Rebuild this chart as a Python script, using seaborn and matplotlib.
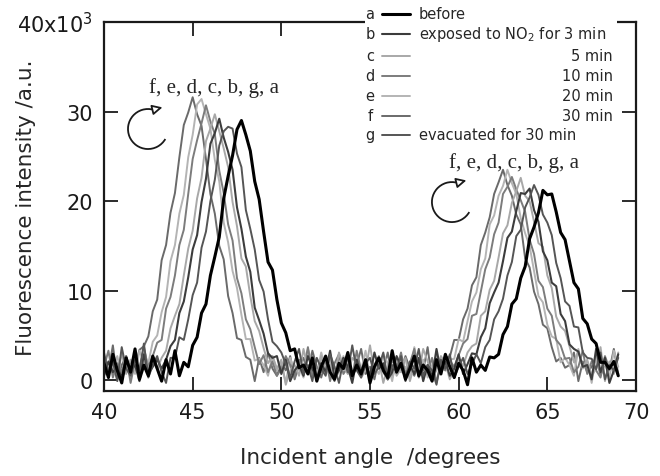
import matplotlib
matplotlib.use("Agg")
import matplotlib.pyplot as plt
import matplotlib.patches as mpatches
import matplotlib.transforms as mtransforms
import numpy as np
import pandas as pd
import seaborn as sns

# scan grid of the incident angle (degrees), 0.25 deg steps from 40 to 69
angles = np.arange(40.0, 69.01, 0.25)

# fluorescence intensity (x10^3 a.u.)
a = [1.9, 0.3, 2.9, 1.1, -0.3, 2.5, 0.9, 3.5, 0.1, 1.7,
     0.5, 2.7, 1.3, -0.1, 2.3, 0.7, 3.3, 0.5,
     2.0, 1.5, 3.9, 4.8, 7.5, 8.5, 11.7, 13.8, 16.0, 20.3, 22.8, 25.1,
     28.0, 29.0, 27.4, 25.6, 22.2, 20.2, 16.6, 13.2, 12.3, 9.0,
     6.4, 5.3, 3.3, 3.5, 1.4,
     1.7, 0.7, 2.5, -0.1, 1.5, 2.7, 0.9, 0.1, 1.9, 1.3,
     3.1, 0.5, 1.7, 0.7, 2.3, -0.3, 1.5, 2.5, 1.1, 0.3,
     3.3, 0.9, 1.9, 0.1, 1.3, 2.7, 0.5, 1.7, 1.1, -0.1,
     2.3, 0.7, 2.9, 1.5, 0.3, 1.9, 1.1, -0.5, 2.5, 0.9, 1.7,
     1.1, 2.6, 2.5, 2.9, 5.1, 6.0, 8.5, 9.1, 11.4, 12.7,
     15.8, 17.1, 18.7, 21.2, 20.7, 20.8, 18.8, 16.5, 15.7, 13.3,
     10.9, 10.2, 6.9, 6.3, 4.6, 4.1, 2.0, 2.0, 1.3,
     2.1, 0.5]
b = [0.5, 2.1, 0.9, 1.5, 0.3, 2.5, 1.1, 1.7, -0.1, 2.9, 0.7, 1.5, 2.3,
     1.3, 2.3, 3.8, 4.5, 7.5, 8.8, 11.5, 14.6, 16.2, 19.9, 22.5, 26.4,
     27.6, 29.2, 27.1, 25.5, 23.5, 19.3, 16.9, 13.8, 12.1, 8.1, 6.7,
     5.2, 3.0, 2.5, 2.7,
     0.7, 2.3, -0.1, 1.1, 1.7, 0.5, 2.7, 1.3, 0.1, 1.9,
     0.9, 3.3, 0.3, 1.1, 2.5, 1.5, -0.3, 2.3, 0.7, 1.7,
     0.5, 3.1, 1.3, 1.9, 0.1, 0.9, 2.7, 1.5, 0.3, 1.7,
     0.7, 2.5, -0.1, 1.7, 0.3, 3.5, 0.9, 2.1, 0.5, 1.3, 2.9,
     0.7, 1.8, 3.0, 2.9, 4.8, 5.8, 8.6, 9.8, 10.9, 13.3,
     15.9, 16.6, 18.9, 20.9, 20.8, 21.4, 19.0, 17.7, 14.4, 13.4,
     10.9, 10.5, 7.4, 6.6, 4.0, 3.5, 3.2, 1.5, 1.7,
     0.1, 3.5, 0.9, 2.5, -0.3, 1.1, 2.9]
c = [2.5, 1.1, 1.7, 0.1, 3.1, 0.7, 2.3, 1.3, 0.5, 3.7, 1.1, 2.5,
     1.2, 2.5, 3.3, 5.8, 7.2, 8.5, 11.7, 14.7, 16.7, 20.3, 22.6, 26.7,
     28.1, 29.7, 27.8, 25.9, 23.8, 19.9, 17.2, 13.6, 12.7, 9.4, 6.6,
     5.5, 3.6, 1.9, 2.7,
     1.3, 2.3, -0.5, 1.1, 1.7, 0.5, 3.5, 1.3, 2.1, -0.1, 2.7,
     0.9, 1.7, 0.1, 3.1, 1.5, 0.7, 2.5, 1.9, 0.3, 1.1,
     3.9, 0.9, 2.3, -0.3, 1.5, 2.9, 0.5, 1.3, 2.5, -0.1,
     1.7, 0.7, 3.5, 2.1, 0.3, 1.1, 2.7, 1.9, 0.1, 1.3,
     2.4, 1.6, 3.1, 3.8, 4.1, 7.2, 7.7, 10.1, 11.1, 13.7,
     16.4, 17.3, 19.8, 21.1, 22.6, 20.6, 20.0, 17.7, 15.3, 14.9,
     11.7, 10.3, 7.1, 6.0, 5.5, 3.8, 2.0, 3.3, 1.4,
     2.3, 0.5, 1.3, 3.7, -0.1, 2.1, 0.7, 3.1]
d = [1.5, 3.3, 0.3, 1.9, 0.9, 2.7, -0.3, 2.1, 1.3, 3.5,
     1.5, 2.7, 4.2, 4.5, 8.0, 9.3, 11.7, 15.1, 16.8, 20.8,
     24.7, 26.8, 28.7, 30.7, 28.9, 27.5, 23.4, 20.9, 17.4, 15.6,
     11.4, 9.7, 6.8, 5.7, 3.7, 1.8, 2.8,
     0.9, 2.1, 0.5, 1.3, 2.7, 1.7, 0.3, 2.3, 1.1, 3.7, 0.5, 1.5, 0.9,
     2.5, -0.1, 1.9, 2.9, 0.7, 1.5, 0.3, 3.3, 1.1, 2.1,
     0.5, 1.7, 2.7, 0.9, 0.1, 2.3, 1.3, 3.1, 0.7, 1.9,
     3.5, 0.3, 1.5, 0.9, 2.5, -0.3, 1.9, 1.1,
     2.2, 1.5, 2.8, 4.1, 4.6, 7.2, 7.4, 9.9, 12.4, 13.7,
     16.3, 17.6, 20.8, 21.6, 22.7, 21.3, 20.1, 18.8, 15.7, 14.1,
     11.1, 10.4, 8.0, 7.2, 4.5, 3.9, 2.4, 2.5, 0.9,
     1.5, 3.3, 0.7, 2.1, 1.1, 0.3, 2.7, 1.3, 1.9, 0.5]
e = [0.5, 1.9, 1.3, 2.7, 0.3, 1.1, 2.1, 0.7, 3.3,
     2.0, 1.9, 4.3, 5.0, 7.6, 9.3, 13.3, 15.1, 18.6, 20.7, 24.9,
     27.4, 30.8, 31.4, 29.7, 28.1, 24.6, 22.2, 17.6, 15.4, 12.2,
     10.3, 7.3, 4.6, 4.6, 2.2, 2.4,
     1.7, 0.5, 2.7, 1.1, 1.9, -0.3, 2.5, 0.9, 1.5, 0.3, 3.5, 1.9, 0.7, 3.1,
     1.3, 2.3, 0.1, 0.9, 2.7, 1.7, 0.5, 2.1, 1.1, 3.3,
     0.3, 1.5, 0.7, 2.9, 1.9, -0.1, 2.5, 0.9, 1.5, 0.5,
     3.7, 1.1, 2.3, 0.3, 1.7, 2.7, 1.3,
     1.1, 2.3, 2.4, 4.6, 4.3, 6.6, 8.8, 9.8, 12.4, 13.6,
     17.4, 18.4, 20.6, 21.7, 23.5, 22.0, 20.8, 18.1, 16.4, 15.0,
     12.2, 9.4, 8.7, 6.2, 4.9, 4.6, 2.0, 2.5, 1.7,
     0.5, 3.5, 1.3, 2.1, -0.3, 2.7, 0.9, 1.9, 0.3, 3.3, 1.5]
f = [2.3, 0.9, 3.9, 0.1, 1.7, 2.7, 1.1,
     1.5, 3.4, 3.8, 4.9, 7.7, 9.0, 13.4, 15.1, 18.7, 20.9, 24.9, 28.5,
     29.9, 31.6, 29.7, 28.4, 24.7, 20.8, 18.6, 15.0, 13.5, 9.4, 7.5,
     4.7, 4.5, 2.6, 2.3,
     -0.1, 2.5, 0.9, 3.1, 1.3, 0.5,
     1.9, 1.1, 2.7, 0.1, 1.7, 2.5, 0.7, 3.3, 1.5, 0.3,
     2.1, 0.9, -0.1, 2.9, 1.3, 2.3, 0.5, 1.7, 3.5, 0.7,
     1.5, 0.1, 2.5, 1.1, 3.1, 0.3, 1.9, 0.9, 2.7, 1.3,
     0.5, 2.1, 1.1, 3.7, -0.1, 1.7,
     1.2, 2.5, 2.6, 4.5, 4.5, 6.8, 8.0, 10.6, 11.5, 15.1,
     16.5, 18.2, 20.8, 22.1, 23.5, 21.8, 20.6, 18.5, 17.4, 13.6,
     12.6, 9.9, 8.5, 6.2, 5.8, 3.7, 2.1, 2.5, 1.4,
     1.7, 3.1, -0.1, 2.1, 0.9, 1.5, 2.7, 0.5, 1.9, 1.1, 3.5, 0.7]
g = [3.1, 0.7, 2.1, -0.1, 3.7, 1.3, 0.5, 2.3, 1.1, 4.1,
     0.3, 1.7, 2.7, 0.9, -0.3,
     2.5, 2.5, 4.8, 4.5, 6.8, 9.5, 10.9, 14.8, 16.6, 20.0,
     22.4, 26.2, 27.8, 28.3, 28.1, 25.3, 23.8, 19.0, 16.9, 14.6,
     11.2, 9.9, 6.8, 4.3, 3.8, 3.1, 1.8,
     0.3, 2.1, 3.5, 0.7, 1.7, -0.1, 2.5, 1.3,
     0.5, 2.9, 1.5, -0.3, 2.3, 0.9, 3.9, 1.1, 0.3, 1.9,
     2.5, 0.7, 1.5, 3.1, 0.1, 1.7, 0.9, 2.7, -0.1, 2.1,
     1.3, 3.5, 0.5, 1.7, 1.1, -0.5, 2.3, 1.3, 2.9, 0.3,
     1.5, 2.5, 0.7,
     1.8, 2.9, 1.9, 3.7, 4.5, 6.8, 7.7, 9.1, 11.7, 13.2,
     16.1, 16.8, 19.3, 20.4, 21.8, 20.7, 18.5, 17.6, 16.2, 13.1,
     11.4, 8.8, 8.3, 6.0, 5.9, 3.1, 2.5, 2.4, 1.2,
     3.1, 0.1, 1.7, 1.1, 2.5]

series_keys = ["a", "b", "c", "d", "e", "f", "g"]
series_labels = ["before", "exposed to NO$_2$ for 3 min", "5 min", "10 min",
                 "20 min", "30 min", "evacuated for 30 min"]
colors = {"a": "#000000", "b": "#3c3c3c", "c": "#a8a8a8", "d": "#7c7c7c",
          "e": "#b4b4b4", "f": "#6a6a6a", "g": "#555555"}
widths = {"a": 2.2, "b": 1.5, "c": 1.4, "d": 1.4, "e": 1.4, "f": 1.4, "g": 1.4}
draw_order = ["f", "e", "d", "c", "b", "g", "a"]

yticks = [0, 10, 20, 30, 40]
yticklabels = ["0", "10", "20", "30", "40x10$^3$"]

df = pd.DataFrame({"angle": angles, "a": a, "b": b, "c": c, "d": d,
                   "e": e, "f": f, "g": g})
long_df = df.melt(id_vars="angle", var_name="series", value_name="intensity")

sns.set_style("ticks")
plt.rcParams["font.family"] = ["DejaVu Sans"]

fig = plt.figure(figsize=(6.6, 4.77), dpi=100)
ax = fig.add_axes([104 / 660, 1 - 392 / 477, 532 / 660, 369 / 477])

sns.lineplot(data=long_df, x="angle", y="intensity", hue="series",
             hue_order=draw_order, palette=colors, size="series",
             sizes=widths, estimator=None, legend=False, ax=ax)

ax.set_xlim(40, 70)
ax.set_ylim(-1.2, 40)
ax.set_xticks([40, 45, 50, 55, 60, 65, 70])
ax.set_yticks(yticks)
ax.set_yticklabels(yticklabels)
ax.tick_params(direction="in", length=10, width=1.3, top=True, right=True,
               labelsize=15, pad=8, colors="#1a1a1a")
for sp in ax.spines.values():
    sp.set_linewidth(1.6)
    sp.set_color("#1a1a1a")
ax.set_xlabel("Incident angle  /degrees", fontsize=15.5, labelpad=18)
ax.set_ylabel("Fluorescence intensity /a.u.", fontsize=15.5)
ax.yaxis.set_label_coords(-0.128, 0.5)

# legend block drawn by hand (letter, line sample, description)
ax.add_patch(mpatches.Rectangle((0.4906, 0.669), 0.4737, 0.395,
                                transform=ax.transAxes, facecolor="white",
                                edgecolor="none", clip_on=False, zorder=5))
row_y = [1.0217, 0.9675, 0.9079, 0.8537, 0.7995, 0.7453, 0.6938]
for key, label, yy in zip(series_keys, series_labels, row_y):
    ax.text(0.500, yy, key, transform=ax.transAxes, ha="center", va="center",
            fontsize=10.5, zorder=6)
    ax.plot([0.5226, 0.575], [yy, yy], transform=ax.transAxes,
            color=colors[key], lw=widths[key], clip_on=False, zorder=6)
    if key in ("c", "d", "e", "f"):
        ax.text(0.957, yy, label, transform=ax.transAxes, ha="right",
                va="center", fontsize=10.5, zorder=6)
    else:
        ax.text(0.592, yy, label, transform=ax.transAxes, ha="left",
                va="center", fontsize=10.5, zorder=6)

# order of the peaks and the rotating arrows
for tx, ty in [(0.2068, 0.824), (0.771, 0.6206)]:
    ax.text(tx, ty, "f, e, d, c, b, g, a", transform=ax.transAxes,
            ha="center", va="center", fontsize=15, family="Liberation Serif",
            zorder=6)

for cx, cy in [(0.0827, 0.710), (0.654, 0.512)]:
    trans = fig.dpi_scale_trans + mtransforms.ScaledTranslation(cx, cy, ax.transAxes)
    r = 0.2
    ax.add_patch(mpatches.Arc((0, 0), 2 * r, 2 * r, theta1=75, theta2=330,
                              transform=trans, color="#1a1a1a", lw=1.3,
                              zorder=6))
    t0 = np.deg2rad(75)
    x0, y0 = r * np.cos(t0), r * np.sin(t0)
    ax.annotate("", xy=(x0 + 0.12, y0 + 0.03), xycoords=trans,
                xytext=(x0, y0), textcoords=trans,
                arrowprops=dict(arrowstyle="-|>,head_length=0.6,head_width=0.3",
                                fc="white", ec="#1a1a1a", lw=1.3),
                zorder=6)

fig.savefig("out.png", dpi=100)
